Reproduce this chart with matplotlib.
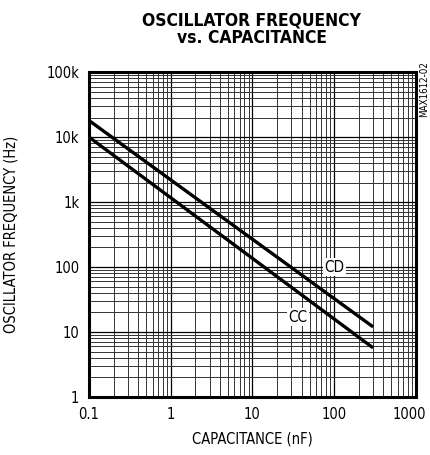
import matplotlib
matplotlib.use("Agg")
import matplotlib.pyplot as plt
from matplotlib.transforms import ScaledTranslation
from matplotlib.ticker import LogLocator, FixedLocator, NullFormatter

# Data
capacitance = [0.1, 300]          # nF
freq_cd = [18000, 12]             # Hz
freq_cc = [10000, 5.7]            # Hz

x_ticks = [0.1, 1, 10, 100, 1000]
x_labels = ["0.1", "1", "10", "100", "1000"]
y_ticks = [1, 10, 100, 1000, 10000, 100000]
y_labels = ["1", "10", "100", "1k", "10k", "100k"]

plt.rcParams["font.family"] = ["DejaVu Sans"]
plt.rcParams["font.stretch"] = "condensed"

fig = plt.figure(figsize=(4.3, 4.55), dpi=100)
ax = fig.add_axes([0.207, 0.1275, 0.760, 0.714])

ax.set_xscale("log")
ax.set_yscale("log")
ax.set_xlim(0.1, 1000)
ax.set_ylim(1, 100000)

ax.plot(capacitance, freq_cd, color="black", lw=2.4, solid_capstyle="butt", zorder=3)
ax.plot(capacitance, freq_cc, color="black", lw=2.4, solid_capstyle="butt", zorder=3)

ax.xaxis.set_major_locator(FixedLocator(x_ticks))
ax.yaxis.set_major_locator(FixedLocator(y_ticks))
ax.xaxis.set_minor_locator(LogLocator(base=10, subs=range(2, 10), numticks=20))
ax.yaxis.set_minor_locator(LogLocator(base=10, subs=range(2, 10), numticks=20))
ax.xaxis.set_minor_formatter(NullFormatter())
ax.yaxis.set_minor_formatter(NullFormatter())
ax.set_xticklabels(x_labels)
ax.set_yticklabels(y_labels)

ax.grid(True, which="major", color="black", lw=0.9)
ax.grid(True, which="minor", color="#333333", lw=0.7)
ax.tick_params(which="both", length=0, labelsize=10.5, pad=7)

# last x label sits a little left of the axis end, as in the original
last = ax.get_xticklabels()[-1]
last.set_transform(last.get_transform() + ScaledTranslation(-5 / 72, 0, fig.dpi_scale_trans))

for s in ax.spines.values():
    s.set_linewidth(2.2)

ax.text(100, 100, "CD", fontsize=11, ha="center", va="center",
        bbox=dict(facecolor="white", edgecolor="none", pad=1), zorder=4)
ax.text(36, 17, "CC", fontsize=11, ha="center", va="center",
        bbox=dict(facecolor="white", edgecolor="none", pad=1), zorder=4)

ax.set_xlabel("CAPACITANCE (nF)", fontsize=10.5, labelpad=7)
ax.set_ylabel("OSCILLATOR FREQUENCY (Hz)", fontsize=10.5, labelpad=20)

fig.text(0.585, 0.975, "OSCILLATOR FREQUENCY\nvs. CAPACITANCE", ha="center", va="top",
         fontsize=12.5, fontweight="heavy", linespacing=1.0)
fig.text(0.987, 0.865, "MAX1612-02", rotation=90, ha="center", va="top", fontsize=7)

fig.savefig("out.png", dpi=100)
